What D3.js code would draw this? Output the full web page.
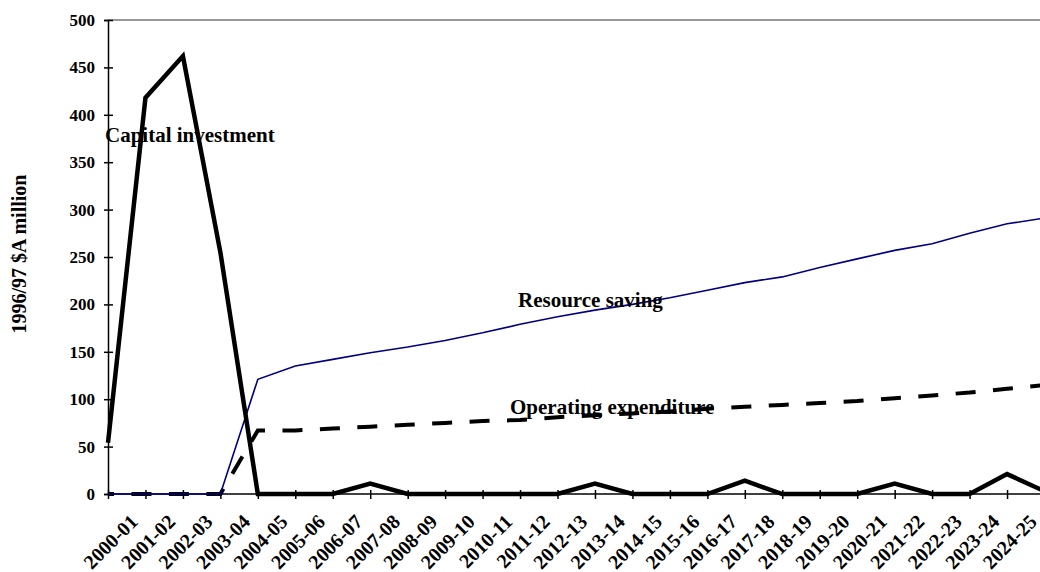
<!DOCTYPE html>
<html>
<head>
<meta charset="utf-8">
<script src="https://cdn.jsdelivr.net/npm/d3@7"></script>
<style>
  body { margin: 0; background: #fff; }
  svg { display: block; font-family: "Liberation Serif", "Times New Roman", serif; font-weight: bold; }
</style>
</head>
<body>
<svg id="chart" width="1040" height="572"></svg>
<script>
// financial years on the category axis
var years = ["2000-01","2001-02","2002-03","2003-04","2004-05","2005-06","2006-07","2007-08",
  "2008-09","2009-10","2010-11","2011-12","2012-13","2013-14","2014-15","2015-16","2016-17",
  "2017-18","2018-19","2019-20","2020-21","2021-22","2022-23","2023-24","2024-25"];

// series values, $A million (1996/97) - one more point than labels, the last runs off the right edge
var capital   = [54, 418, 462, 255, 0, 0, 0, 11, 0, 0, 0, 0, 0, 11, 0, 0, 0, 14, 0, 0, 0, 11, 0, 0, 21, 3];
var resource  = [0, 0, 0, 0, 121, 135, 142, 149, 155, 162, 170, 179, 187, 194, 200, 207, 215, 223,
  229, 239, 248, 257, 264, 275, 285, 291];
var operating = [0, 0, 0, 0, 67, 67, 69, 71, 73, 75, 77, 78, 81, 83, 85, 87, 90, 92, 94, 96, 98,
  101, 104, 107, 111, 115];

var yTicks = [0, 50, 100, 150, 200, 250, 300, 350, 400, 450, 500];

var svg = d3.select("#chart");
var plotLeft = 108, plotTop = 20, plotBottom = 494, step = 37.46;

var x = d3.scaleLinear().domain([0, 25]).range([plotLeft, plotLeft + 25 * step]);
var y = d3.scaleLinear().domain([0, 500]).range([plotBottom, plotTop]);

// top border of plot area
svg.append("line")
    .attr("x1", plotLeft).attr("x2", 1040)
    .attr("y1", plotTop).attr("y2", plotTop)
    .attr("stroke", "#333").attr("stroke-width", 1.2);

// y axis
var yAxis = svg.append("g")
    .attr("transform", "translate(" + plotLeft + ",0)")
    .call(d3.axisLeft(y).tickValues(yTicks).tickSize(4).tickPadding(9));
yAxis.select(".domain").attr("stroke", "#000").attr("stroke-width", 1.5);
yAxis.selectAll(".tick line").attr("x1", 5).attr("x2", -4).attr("stroke-width", 1.5);
yAxis.selectAll(".tick text")
    .attr("font-size", 17)
    .attr("font-family", "Liberation Serif")
    .attr("font-weight", "bold")
    .attr("fill", "#000");

// x axis, ticks at every point, labels between
var xAxis = svg.append("g")
    .attr("transform", "translate(0," + plotBottom + ")")
    .call(d3.axisBottom(x).tickValues(d3.range(26)).tickFormat("").tickSize(4));
xAxis.select(".domain").remove();
xAxis.append("line")
    .attr("x1", plotLeft).attr("x2", 1040)
    .attr("stroke", "#000").attr("stroke-width", 1.5);
xAxis.selectAll(".tick line").attr("y1", -4).attr("y2", 5).attr("stroke-width", 1.5);

svg.append("g").selectAll("text")
    .data(years)
    .enter()
    .append("text")
    .attr("transform", function(d, i) {
        return "translate(" + (x(i) + 31) + ",523) rotate(-45)";
      })
    .attr("text-anchor", "end")
    .attr("font-size", 20)
    .attr("fill", "#000")
    .text(function(d) { return d; });

// y axis title
svg.append("text")
    .attr("transform", "translate(26,254) rotate(-90)")
    .attr("text-anchor", "middle")
    .attr("font-size", 20)
    .attr("fill", "#000")
    .text("1996/97 $A million");

var line = d3.line()
    .x(function(d, i) { return x(i); })
    .y(function(d) { return y(d); });

svg.append("path")
    .datum(operating)
    .attr("d", line)
    .attr("fill", "none")
    .attr("stroke", "#000")
    .attr("stroke-width", 4)
    .attr("stroke-dasharray", "20 " + (step - 20))
    .attr("stroke-dashoffset", 14);

svg.append("path")
    .datum(resource)
    .attr("d", line)
    .attr("fill", "none")
    .attr("stroke", "#000080")
    .attr("stroke-width", 1.6);

svg.append("path")
    .datum(capital)
    .attr("d", line)
    .attr("fill", "none")
    .attr("stroke", "#000")
    .attr("stroke-width", 4.5)
    .attr("stroke-linejoin", "miter");

// series labels
svg.append("text").attr("x", 105).attr("y", 142)
    .attr("font-size", 21).attr("fill", "#000").text("Capital investment");
svg.append("text").attr("x", 518).attr("y", 307)
    .attr("font-size", 21).attr("fill", "#000").text("Resource saving");
svg.append("text").attr("x", 510).attr("y", 414)
    .attr("font-size", 21).attr("fill", "#000").text("Operating expenditure");
</script>
</body>
</html>
